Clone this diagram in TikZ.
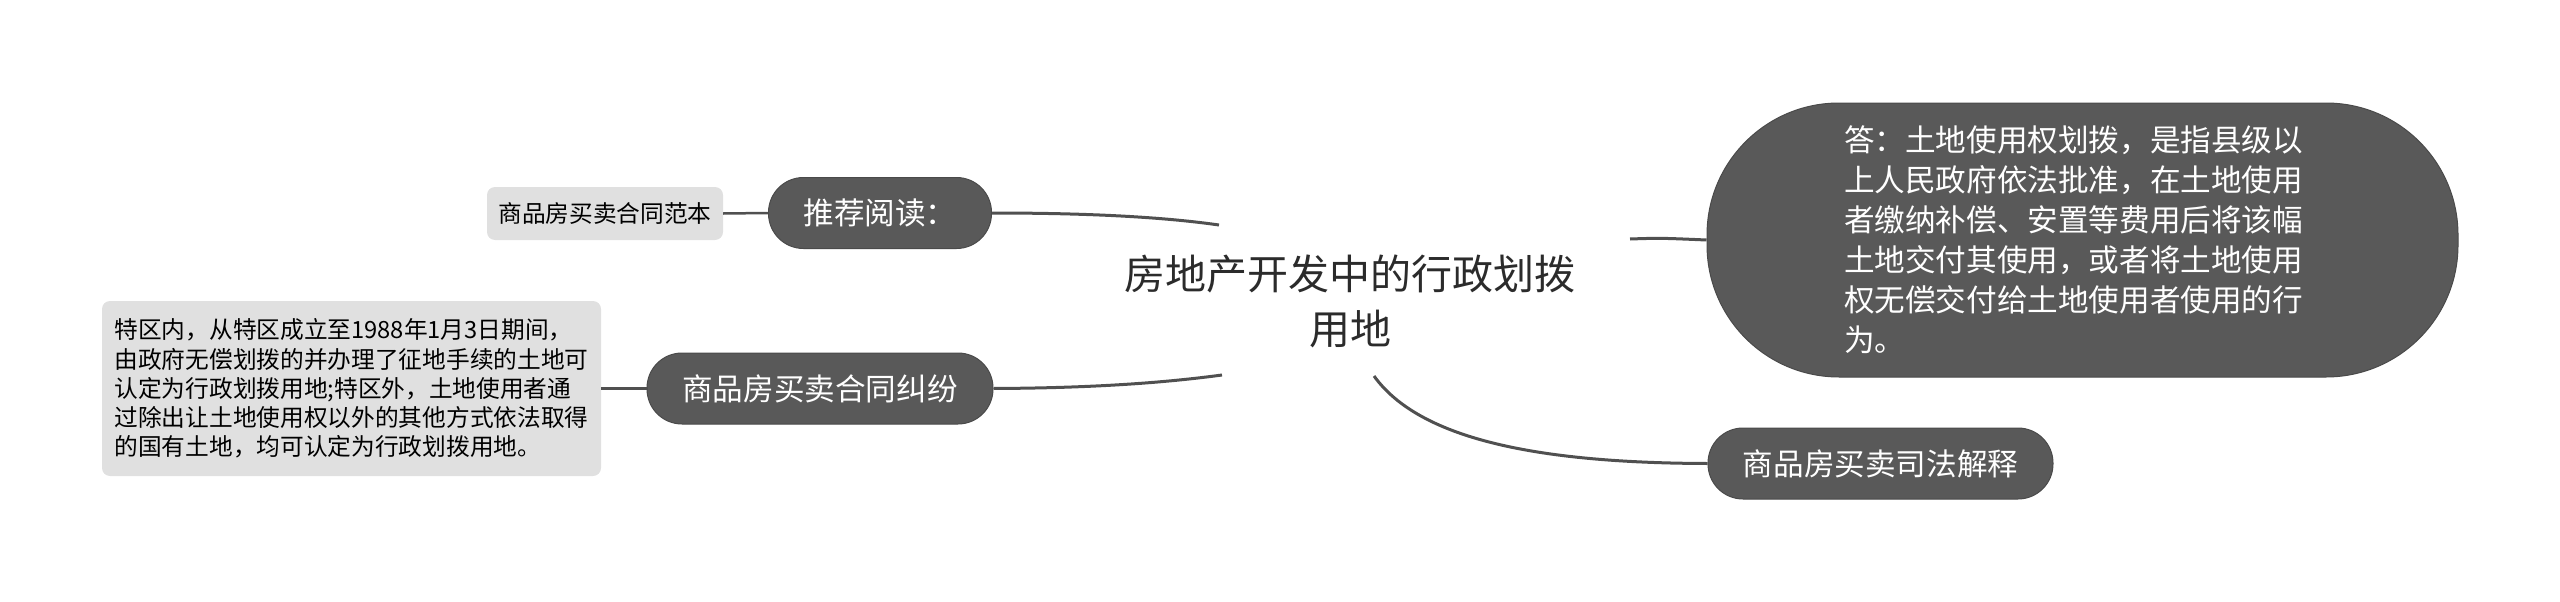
\documentclass[tikz,border=0pt]{standalone}
\usepackage{fontspec}
\newfontfamily\cjk{Noto Sans CJK SC}
\definecolor{darknode}{HTML}{595959}
\definecolor{darkedge}{HTML}{4A4A4A}
\definecolor{lightnode}{HTML}{E0E0E0}
\definecolor{edgecol}{HTML}{505050}
\definecolor{titlecol}{HTML}{2B2B2B}
\begin{document}
\begin{tikzpicture}[x=1pt,y=-1pt,
  branch/.style={fill=darknode, draw=darkedge, line width=1pt, text=white,
    rounded corners=35pt, minimum height=71pt, inner sep=0pt,
    font=\cjk\fontsize{30.6}{36}\selectfont},
  leaf/.style={fill=lightnode, rounded corners=8pt, text=black, inner sep=0pt,
    font=\cjk\fontsize{23.7}{29.2}\selectfont},
  link/.style={draw=edgecol, line width=3pt},
  thinlink/.style={draw=edgecol, line width=2.5pt}]
\useasboundingbox (0,0) rectangle (2560,602);

% central topic
\node[text=titlecol, align=center, font=\cjk\fontsize{41}{55}\selectfont] (root) at (1350,301)
  {房地产开发中的行政划拨\\用地};
\coordinate (rtl) at (1219,225);
\coordinate (rbl) at (1222,375);
\coordinate (rr) at (1630,239);
\coordinate (rb) at (1374,376);

% branches
\node[branch, minimum width=223pt] (tj) at (880,213) {推荐阅读：};
\node[branch, minimum width=346pt] (jf) at (820,388.5) {商品房买卖合同纠纷};
\node[branch, minimum width=345pt] (sf) at (1880.5,463.5) {商品房买卖司法解释};
\node[fill=darknode, draw=darkedge, line width=1pt, text=white, rounded corners=132pt,
  minimum width=751pt, minimum height=274pt, inner sep=0pt, align=left,
  font=\cjk\fontsize{30.6}{40}\selectfont] (ans) at (2082.5,240)
  {答：土地使用权划拨，是指县级以\hspace*{18pt}\\上人民政府依法批准，在土地使用\\者缴纳补偿、安置等费用后将该幅\\土地交付其使用，或者将土地使用\\权无偿交付给土地使用者使用的行\\为。};

% leaves
\node[leaf, minimum width=236pt, minimum height=53pt] (fb) at (605,213.5) {商品房买卖合同范本};
\node[leaf, minimum width=499pt, minimum height=175pt, align=left] (lb) at (351.5,388.5)
  {特区内，从特区成立至1988年1月3日期间，\\由政府无偿划拨的并办理了征地手续的土地可\\认定为行政划拨用地;特区外，土地使用者通\\过除出让土地使用权以外的其他方式依法取得\\的国有土地，均可认定为行政划拨用地。};

% connectors
\draw[link] (tj.east) .. controls (1100,213) and (1170,218) .. (rtl);
\draw[link] (jf.east) .. controls (1100,388) and (1170,382) .. (rbl);
\draw[link] (rr) .. controls (1660,238) .. (ans.west);
\draw[link] (rb) .. controls (1420,440) and (1540,463) .. (sf.west);
\draw[thinlink] (fb.east) -- (tj.west);
\draw[thinlink] (lb.east) -- (jf.west);
\end{tikzpicture}
\end{document}
